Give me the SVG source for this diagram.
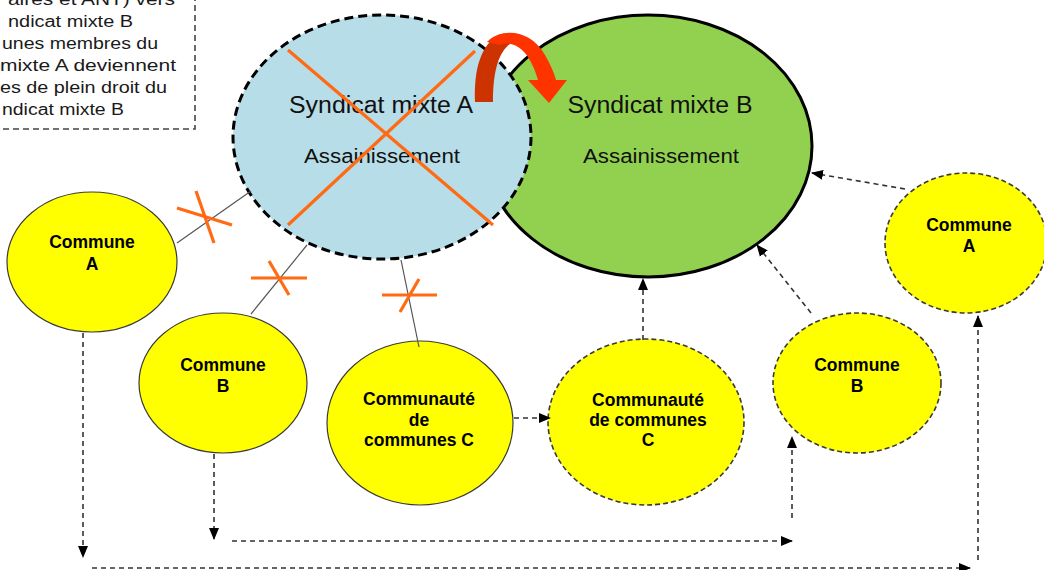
<svg xmlns="http://www.w3.org/2000/svg" width="1044" height="570" viewBox="0 0 1044 570">
  <style>
    .note { font-family: "Liberation Sans", Arial, sans-serif; font-size: 16px; fill: #1a1a1a; }
    .big { font-family: "Liberation Sans", Arial, sans-serif; font-size: 23px; fill: #111; }
    .mid { font-family: "Liberation Sans", Arial, sans-serif; font-size: 20px; fill: #111; }
    .lbl { font-family: "Liberation Sans", Arial, sans-serif; font-size: 17.5px; font-weight: bold; fill: #000; }
    .solid { fill: #FFFF00; stroke: #3a3a3a; stroke-width: 1.2; }
    .dashed { fill: #FFFF00; stroke: #3a3a3a; stroke-width: 1.6; stroke-dasharray: 5 3; }
    .link { stroke: #555; stroke-width: 1.2; fill: none; }
    .cut { stroke: #FF6A13; stroke-width: 3.2; fill: none; }
    .flow { stroke: #333; stroke-width: 1.6; stroke-dasharray: 5 4; fill: none; marker-end: url(#head); }
  </style>
  <defs>
    <marker id="head" markerUnits="userSpaceOnUse" markerWidth="12" markerHeight="12" viewBox="0 0 12 12" refX="11" refY="6" orient="auto">
      <path d="M0,1 L12,6 L0,11 Z" fill="#000"/>
    </marker>
  </defs>
  <rect width="1044" height="570" fill="#fff"/>

  <!-- explanatory note, partly outside the page -->
  <g id="note">
    <rect x="-20" y="-20" width="215" height="149" fill="#fff" stroke="#444" stroke-width="1.6" stroke-dasharray="6 4"/>
    <text class="note" x="8" y="5" textLength="167" lengthAdjust="spacingAndGlyphs">aires et ANT) vers</text>
    <text class="note" x="8" y="27" textLength="125" lengthAdjust="spacingAndGlyphs">ndicat mixte B</text>
    <text class="note" x="2" y="49" textLength="156" lengthAdjust="spacingAndGlyphs">unes membres du</text>
    <text class="note" x="0" y="71" textLength="176" lengthAdjust="spacingAndGlyphs">mixte A deviennent</text>
    <text class="note" x="0" y="93" textLength="167" lengthAdjust="spacingAndGlyphs">es de plein droit du</text>
    <text class="note" x="2" y="115" textLength="122" lengthAdjust="spacingAndGlyphs">ndicat mixte B</text>
  </g>

  <!-- syndicate B (target) -->
  <g id="syndicat-b">
    <ellipse cx="648" cy="146" rx="164" ry="131" fill="#92D050" stroke="#000" stroke-width="3"/>
    <text class="big" x="660" y="113" text-anchor="middle" textLength="185" lengthAdjust="spacingAndGlyphs">Syndicat mixte B</text>
    <text class="mid" x="661" y="163" text-anchor="middle" textLength="156" lengthAdjust="spacingAndGlyphs">Assainissement</text>
  </g>

  <!-- syndicate A (dissolved) -->
  <g id="syndicat-a">
    <ellipse cx="382" cy="137" rx="149" ry="122" fill="#B7DDE8" stroke="#000" stroke-width="3" stroke-dasharray="9 5"/>
    <text class="big" x="381" y="113" text-anchor="middle" textLength="184" lengthAdjust="spacingAndGlyphs">Syndicat mixte A</text>
    <text class="mid" x="382" y="163" text-anchor="middle" textLength="156" lengthAdjust="spacingAndGlyphs">Assainissement</text>
    <line class="cut" stroke-width="4" x1="288" y1="50" x2="493" y2="225"/>
    <line class="cut" stroke-width="4" x1="475" y1="51" x2="288" y2="225"/>
  </g>

  <!-- curved transfer arrow A to B -->
  <g id="transfer">
    <path d="M475,102 C474,70 480,45 500,34 L510,44 C499,52 493,70 493,102 Z" fill="#CC3300"/>
    <path d="M487,42 C500,28 530,28 545,55 C550,64 554,72 556,80 L567,80 L549,103 L528,80 L538,80 C534,66 528,55 522,50 C516,44 508,42 500,45 Z" fill="#FF3300"/>
  </g>

  <!-- member communes -->
  <g id="commune-a-1">
    <ellipse class="solid" cx="92" cy="262" rx="85" ry="70"/>
    <text class="lbl" x="92" y="248" text-anchor="middle">Commune</text>
    <text class="lbl" x="92" y="270" text-anchor="middle">A</text>
  </g>
  <g id="commune-b-1">
    <ellipse class="solid" cx="223" cy="383" rx="84" ry="70"/>
    <text class="lbl" x="223" y="371" text-anchor="middle">Commune</text>
    <text class="lbl" x="223" y="392" text-anchor="middle">B</text>
  </g>
  <g id="cc-c-1">
    <ellipse class="solid" cx="420" cy="423" rx="93" ry="82"/>
    <text class="lbl" x="419" y="405" text-anchor="middle">Communauté</text>
    <text class="lbl" x="419" y="426" text-anchor="middle">de</text>
    <text class="lbl" x="419" y="446" text-anchor="middle">communes C</text>
  </g>
  <g id="cc-c-2">
    <ellipse class="dashed" cx="646" cy="422" rx="98" ry="83"/>
    <text class="lbl" x="648" y="406" text-anchor="middle">Communauté</text>
    <text class="lbl" x="648" y="426" text-anchor="middle">de communes</text>
    <text class="lbl" x="648" y="446" text-anchor="middle">C</text>
  </g>
  <g id="commune-b-2">
    <ellipse class="dashed" cx="857" cy="383" rx="84" ry="70"/>
    <text class="lbl" x="857" y="371" text-anchor="middle">Commune</text>
    <text class="lbl" x="857" y="392" text-anchor="middle">B</text>
  </g>
  <g id="commune-a-2">
    <ellipse class="dashed" cx="966" cy="243" rx="81" ry="70"/>
    <text class="lbl" x="969" y="231" text-anchor="middle">Commune</text>
    <text class="lbl" x="969" y="252" text-anchor="middle">A</text>
  </g>

  <g id="connectors">
    <!-- former membership links, cut -->
    <line class="link" x1="177" y1="243" x2="251" y2="191"/>
    <line class="cut" x1="177" y1="208" x2="232" y2="225"/>
    <line class="cut" x1="196" y1="191" x2="214" y2="243"/>
    <line class="link" x1="251" y1="314" x2="307" y2="245"/>
    <line class="cut" x1="251" y1="278" x2="307" y2="278"/>
    <line class="cut" x1="269" y1="261" x2="289" y2="295"/>
    <line class="link" x1="419" y1="347" x2="401" y2="260"/>
    <line class="cut" x1="382" y1="295" x2="437" y2="295"/>
    <line class="cut" x1="400" y1="312" x2="419" y2="279"/>

    <!-- new memberships -->
    <line class="flow" x1="514" y1="418" x2="550" y2="418"/>
    <line class="flow" x1="643" y1="340" x2="643" y2="279"/>
    <line class="flow" x1="811" y1="313" x2="757" y2="245"/>
    <line class="flow" x1="905" y1="189" x2="812" y2="173"/>

    <!-- routes of commune A and commune B -->
    <line class="flow" x1="83" y1="333" x2="83" y2="557"/>
    <line class="flow" x1="92" y1="568" x2="970" y2="568"/>
    <line class="flow" x1="978" y1="560" x2="978" y2="316"/>
    <line class="flow" x1="214" y1="454" x2="214" y2="539"/>
    <line class="flow" x1="232" y1="541" x2="792" y2="541"/>
    <line class="flow" x1="792" y1="518" x2="792" y2="437"/>
  </g>
</svg>
